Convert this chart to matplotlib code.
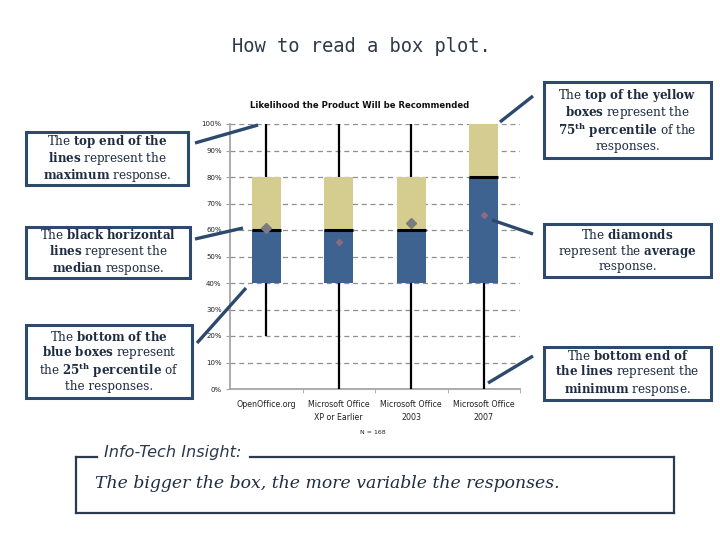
import matplotlib
matplotlib.use("Agg")
import matplotlib.pyplot as plt
from matplotlib.lines import Line2D
from matplotlib.patches import Rectangle

# ── Data ──────────────────────────────────────────────
categories = ["OpenOffice.org", "Microsoft Office\nXP or Earlier",
              "Microsoft Office\n2003", "Microsoft Office\n2007"]
minimum = [0.20, 0.00, 0.00, 0.00]
q1 = [0.40, 0.40, 0.40, 0.40]
median = [0.60, 0.60, 0.60, 0.80]
q3 = [0.80, 0.80, 0.80, 1.00]
maximum = [1.00, 1.00, 1.00, 1.00]
mean = [0.606, 0.553, 0.625, 0.655]
ytick_vals = [0.0, 0.1, 0.2, 0.3, 0.4, 0.5, 0.6, 0.7, 0.8, 0.9, 1.0]
ytick_labels = ["0%", "10%", "20%", "30%", "40%", "50%", "60%", "70%", "80%", "90%", "100%"]

BLUE = "#3E6391"
YELLOW = "#D4CD8F"
NAVY = "#2D4A6D"
TEXT = "#1E2C42"

plt.rcParams["mathtext.fontset"] = "custom"
plt.rcParams["mathtext.rm"] = "DejaVu Serif"
plt.rcParams["mathtext.bf"] = "DejaVu Serif:bold"

W, H = 720, 540
fig = plt.figure(figsize=(7.2, 5.4), dpi=100)
fig.patch.set_facecolor("white")


def fx(x):
    return x / W


def fy(y):
    return 1 - y / H


# ── Box plot chart ──────────────────────────────────
ax = fig.add_axes([fx(230), fy(389), fx(520) - fx(230), fy(124) - fy(389)])
pos = range(1, len(categories) + 1)
bw = 0.4
for i, p in enumerate(pos):
    ax.vlines(p, q3[i], maximum[i], color="black", lw=1.6, zorder=3)
    ax.vlines(p, minimum[i], q1[i], color="black", lw=1.6, zorder=3)
ax.bar(pos, [m - a for m, a in zip(median, q1)], bottom=q1, width=bw, color=BLUE, zorder=2)
ax.bar(pos, [b - m for b, m in zip(q3, median)], bottom=median, width=bw, color=YELLOW, zorder=2)
ax.hlines(median, [p - bw / 2 for p in pos], [p + bw / 2 for p in pos], color="black", lw=2.2, zorder=4)
big = [True, False, True, False]
for i, p in enumerate(pos):
    if big[i]:
        ax.plot(p, mean[i], marker="D", ms=5, color="#7B7B80", zorder=5)
    else:
        ax.plot(p, mean[i], marker="D", ms=3, color="#8E6C80", zorder=5)

ax.set_xlim(0.5, 4.5)
ax.set_ylim(0, 1)
ax.set_yticks(ytick_vals)
ax.set_yticklabels(ytick_labels, fontsize=5, color="#222222")
ax.set_xticks(list(pos))
ax.set_xticklabels(categories, fontsize=5.7, color="#222222", linespacing=1.5)
ax.set_xticks([1.5, 2.5, 3.5, 4.5], minor=True)
ax.tick_params(axis="x", which="major", length=0, pad=8)
ax.tick_params(axis="x", which="minor", length=3, color="#A0A0A0")
ax.tick_params(axis="y", length=3, color="#A0A0A0", pad=3)
ax.yaxis.grid(True, linestyle=(0, (4, 3)), color="#8F8F8F", lw=0.9)
ax.set_axisbelow(True)
for s in ["top", "right"]:
    ax.spines[s].set_visible(False)
for s in ["left", "bottom"]:
    ax.spines[s].set_color("#A6A6A6")
    ax.spines[s].set_linewidth(1.3)

fig.text(fx(360), fy(105), "Likelihood the Product Will be Recommended",
         ha="center", va="center", fontsize=6.1, fontweight="bold", color="#111111")
fig.text(fx(373), fy(433), "N = 168", ha="center", va="center", fontsize=4.5, color="#222222")

# ── Title ────────────────────────────────────────────
fig.text(fx(361), fy(46), "How to read a box plot.", ha="center", va="center",
         family="DejaVu Sans Mono", fontsize=13.5, color="#2F3A48")


# ── Annotation boxes ──────────────────────────────────
def rich(line):
    out = ""
    parts = line.split("**")
    for k, part in enumerate(parts):
        if k % 2 == 1:
            out += r"$\mathbf{" + part.replace(" ", r"\ ") + "}$"
        else:
            out += part
    return out


def note(x0, y0, x1, y1, lines):
    fig.patches.append(Rectangle((fx(x0), fy(y1)), fx(x1) - fx(x0), fy(y0) - fy(y1),
                                 transform=fig.transFigure, fill=True, facecolor="white",
                                 edgecolor=NAVY, lw=2.2, zorder=5))
    fig.text(fx((x0 + x1) / 2), fy((y0 + y1) / 2), "\n".join(rich(l) for l in lines),
             ha="center", va="center", multialignment="center", family="DejaVu Serif",
             fontsize=8.6, color=TEXT, linespacing=1.02, zorder=6)


def connector(xa, ya, xb, yb):
    fig.lines.append(Line2D([fx(xa), fx(xb)], [fy(ya), fy(yb)], transform=fig.transFigure,
                            color=NAVY, lw=2.4, solid_capstyle="butt", zorder=7))


note(26, 132, 188, 185, ["The **top end of the**", "**lines** represent the", "**maximum** response."])
note(26, 227, 190, 278, ["The **black horizontal**", "**lines** represent the", "**median** response."])
note(26, 325, 192, 398, ["The **bottom of the**", "**blue boxes** represent",
                         "the **25^{th} percentile** of", "the responses."])
note(544, 82, 711, 158, ["The **top of the yellow**", "**boxes** represent the",
                         "**75^{th} percentile** of the", "responses."])
note(544, 224, 711, 277, ["The **diamonds**", "represent the **average**", "response."])
note(544, 347, 711, 400, ["The **bottom end of**", "**the lines** represent the", "**minimum** response."])

connector(195, 143, 258, 125)
connector(195, 239, 243, 228)
connector(197, 343, 246, 288)
connector(500, 122, 533, 96)
connector(492, 220, 533, 234)
connector(488, 383, 533, 356)

# ── Insight box ──────────────────────────────────────
for xs, ys in [([76, 97], [457, 457]), ([250, 674], [457, 457]), ([76, 76], [457, 513]),
               ([674, 674], [457, 513]), ([76, 674], [513, 513])]:
    fig.lines.append(Line2D([fx(v) for v in xs], [fy(v) for v in ys], transform=fig.transFigure,
                            color="#2B3A4D", lw=1.6))
fig.text(fx(104), fy(452), "Info-Tech Insight:", ha="left", va="center", style="italic",
         family="DejaVu Sans", fontsize=11.6, color="#2B3A4D")
fig.text(fx(95), fy(483), "The bigger the box, the more variable the responses.", ha="left",
         va="center", style="italic", family="DejaVu Serif", fontsize=12.4, color="#1E2C42")

fig.savefig("out.png", dpi=100)
